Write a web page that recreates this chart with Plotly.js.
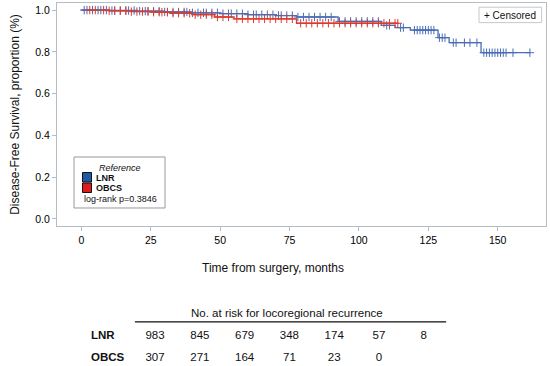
<!DOCTYPE html>
<html>
<head>
<meta charset="utf-8">
<script src="https://cdn.plot.ly/plotly-3.0.1.min.js"></script>
<style>html,body{margin:0;padding:0;background:#fff;}#chart{width:550px;height:366px;}</style>
</head>
<body>
<div id="chart"></div>
<script>
// Kaplan-Meier step data (months, survival proportion)
var lnrTime = [0, 10, 20, 30, 40, 50, 60, 70, 77.5, 92.5, 108, 113, 118.5, 128.5, 132.5, 144, 161.6];
var lnrSurv = [1.0, 0.998, 0.995, 0.991, 0.987, 0.983, 0.978, 0.974, 0.967, 0.946, 0.927, 0.916, 0.904, 0.868, 0.844, 0.796, 0.796];
var obcsTime = [0, 10, 18, 25, 32, 40, 48, 55, 77.5, 114];
var obcsSurv = [1.0, 0.997, 0.993, 0.99, 0.985, 0.978, 0.967, 0.958, 0.937, 0.937];

// Censoring times
var lnrCensor = [1,2,4,6,7,9,11,12,14,16,17,19,21,23,24,26,28,30,31,33,35,37,38,40,42,44,45,47,49,51,53,54,56,58,60,62,63,65,67,69,71,72,74,76,78,80,82,84,86,88,90,93,95,97,99,101,103,105,107,110,111,115,116,120,121,122,123,124,125,126,127,129,130,131,134,135,138,140,142.5,145,146,147,148,149,150,151,152,153,155.5,161.6];
var obcsCensor = [3,5,8,10,12,14,16,18,20,22,24,26,28,29,31,33,35,37,39,41,43,45,47,49,51,53,56,58,60,62,64,66,68,70,72,74,76,79,81,83,85,87,89,91,93,95,97,99,101,103,105,107,109,111,113,114];

// Number at risk table
var riskGroups = ['LNR', 'OBCS'];
var lnrRisk = [983, 845, 679, 348, 174, 57, 8];
var obcsRisk = [307, 271, 164, 71, 23, 0];

var xTicks = [0, 25, 50, 75, 100, 125, 150];
var yTicks = [0.0, 0.2, 0.4, 0.6, 0.8, 1.0];

var blue = '#4a6db5', red = '#dd3b2e';

function stepAt(times, surv, t) {
  var v = surv[0];
  for (var i = 0; i < times.length; i++) { if (times[i] <= t) v = surv[i]; }
  return v;
}

var font = 'Liberation Sans, Arial, Helvetica, sans-serif';

var traces = [
  {x: lnrTime, y: lnrSurv, mode: 'lines', line: {shape: 'hv', color: blue, width: 1.3}, hoverinfo: 'skip', showlegend: false},
  {x: obcsTime, y: obcsSurv, mode: 'lines', line: {shape: 'hv', color: red, width: 1.3}, hoverinfo: 'skip', showlegend: false},
  {x: lnrCensor, y: lnrCensor.map(function(t){return stepAt(lnrTime, lnrSurv, t);}), mode: 'markers',
   marker: {symbol: 'cross-thin', size: 6, line: {color: blue, width: 1}}, showlegend: false},
  {x: obcsCensor, y: obcsCensor.map(function(t){return stepAt(obcsTime, obcsSurv, t);}), mode: 'markers',
   marker: {symbol: 'cross-thin', size: 6, line: {color: red, width: 1}}, showlegend: false},
  // risk table
  {x: lnrRisk.map(function(_, i){return i;}), y: lnrRisk.map(function(){return 2;}), text: lnrRisk.map(String),
   mode: 'text', textfont: {family: font, size: 11.5, color: '#111'}, xaxis: 'x2', yaxis: 'y2', showlegend: false, hoverinfo: 'skip'},
  {x: obcsRisk.map(function(_, i){return i;}), y: obcsRisk.map(function(){return 1;}), text: obcsRisk.map(String),
   mode: 'text', textfont: {family: font, size: 11.5, color: '#111'}, xaxis: 'x2', yaxis: 'y2', showlegend: false, hoverinfo: 'skip'},
  {x: [-1.43, -1.43], y: [2, 1], text: riskGroups.map(function(g){return '<b>' + g + '</b>';}),
   mode: 'text', textposition: 'middle right', textfont: {family: font, size: 11.5, color: '#111'}, xaxis: 'x2', yaxis: 'y2', showlegend: false, hoverinfo: 'skip'}
];

var frameColor = '#b4bcc6';

var layout = {
  width: 550, height: 366,
  margin: {l: 57, r: 4, t: 3, b: 0},
  paper_bgcolor: '#fff', plot_bgcolor: '#fff',
  font: {family: font, size: 10, color: '#111'},
  showlegend: false,
  xaxis: {
    domain: [0, 1], range: [-8.8, 167.4], tickvals: xTicks, ticks: 'outside', ticklen: 4, tickcolor: frameColor,
    showline: true, mirror: true, linecolor: frameColor, linewidth: 1, showgrid: false, zeroline: false,
    tickfont: {size: 10.5, color: '#000'}, anchor: 'y', fixedrange: true
  },
  yaxis: {
    domain: [0.3857, 1], range: [-0.034, 1.034], tickvals: yTicks, tickformat: '.1f', ticks: 'outside', ticklen: 4, tickcolor: frameColor,
    showline: true, mirror: true, linecolor: frameColor, linewidth: 1, showgrid: false, zeroline: false,
    tickfont: {size: 10.5, color: '#000'}, anchor: 'x',
    title: {text: 'Disease-Free Survival, proportion (%)', font: {size: 12, color: '#111'}, standoff: 13}
  },
  xaxis2: {domain: [0, 1], range: [-2.19, 8.73], visible: false, anchor: 'y2'},
  yaxis2: {domain: [0, 0.2], range: [0.636, 3.936], visible: false, anchor: 'x2'},
  shapes: [
    // risk table rule
    {type: 'line', xref: 'x2', yref: 'y2', x0: -0.45, x1: 6.5, y0: 2.64, y1: 2.64, line: {color: '#111', width: 1.2}},
    // legend box
    {type: 'rect', xref: 'x domain', yref: 'y domain', x0: 0.0348, x1: 0.2209, y0: 0.0807, y1: 0.3094, line: {color: '#999', width: 1}, fillcolor: '#fff'},
    {type: 'rect', xref: 'paper', yref: 'paper', x0: (82.5-57)/489, x1: (91.5-57)/489, y0: (366-182)/363, y1: (366-172.5)/363, line: {color: '#111', width: 1}, fillcolor: '#1c5aa6'},
    {type: 'rect', xref: 'paper', yref: 'paper', x0: (82.5-57)/489, x1: (91.5-57)/489, y0: (366-192.5)/363, y1: (366-183)/363, line: {color: '#111', width: 1}, fillcolor: '#e01b1b'},
    // censored box
    {type: 'rect', xref: 'x domain', yref: 'y domain', x0: 0.863, x1: 0.991, y0: 0.912, y1: 0.981, line: {color: '#c8c8c8', width: 1}, fillcolor: '#fff'}
  ],
  annotations: [
    {xref: 'paper', yref: 'paper', x: (273-57)/489, y: (366-268)/363, text: 'Time from surgery, months', showarrow: false, font: {size: 12, color: '#111'}, xanchor: 'center', yanchor: 'middle'},
    {xref: 'x2', yref: 'y2', x: 2.94, y: 3.05, text: 'No. at risk for locoregional recurrence', showarrow: false, font: {size: 11.5, color: '#111'}, xanchor: 'center', yanchor: 'middle'},
    {xref: 'paper', yref: 'paper', x: (119.5-57)/489, y: (366-167.7)/363, text: '<i>Reference</i>', showarrow: false, font: {size: 9, color: '#111'}, xanchor: 'center', yanchor: 'middle'},
    {xref: 'paper', yref: 'paper', x: (93.5-57)/489, y: (366-177.5)/363, text: '<b>LNR</b>', showarrow: false, font: {size: 9, color: '#111'}, xanchor: 'left', yanchor: 'middle'},
    {xref: 'paper', yref: 'paper', x: (93.5-57)/489, y: (366-188)/363, text: '<b>OBCS</b>', showarrow: false, font: {size: 9, color: '#111'}, xanchor: 'left', yanchor: 'middle'},
    {xref: 'paper', yref: 'paper', x: (82-57)/489, y: (366-199.3)/363, text: 'log-rank p=0.3846', showarrow: false, font: {size: 9, color: '#111'}, xanchor: 'left', yanchor: 'middle'},
    {xref: 'paper', yref: 'paper', x: (482-57)/489, y: (366-15)/363, text: '+ Censored', showarrow: false, font: {size: 10, color: '#111'}, xanchor: 'left', yanchor: 'middle'}
  ]
};

Plotly.newPlot('chart', traces, layout, {staticPlot: true, displayModeBar: false});
</script>
</body>
</html>
